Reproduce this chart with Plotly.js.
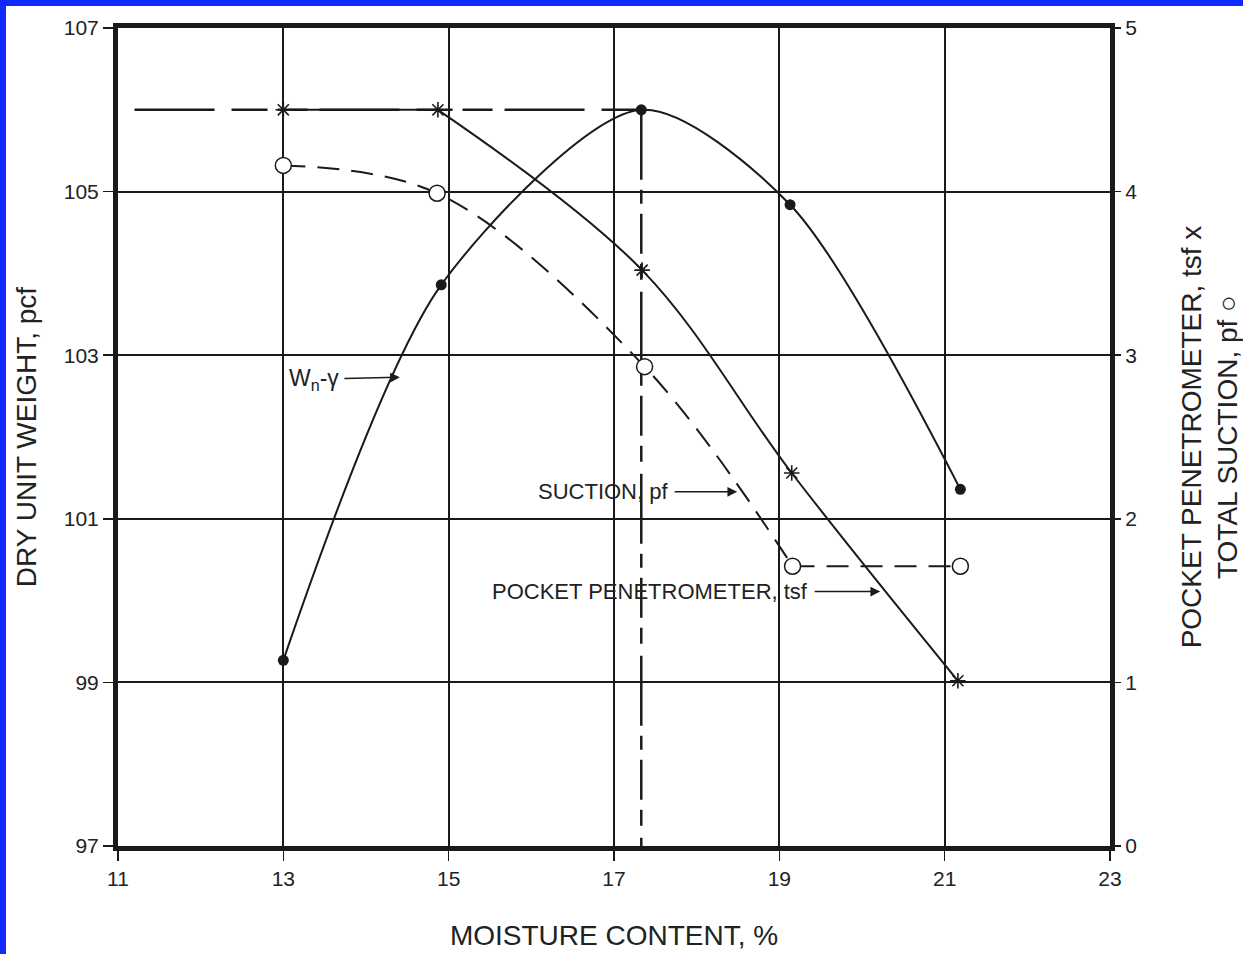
<!DOCTYPE html>
<html>
<head>
<meta charset="utf-8">
<script src="https://cdn.plot.ly/plotly-3.0.1.min.js"></script>
<style>
  html, body { margin: 0; padding: 0; background: #1029ff; width: 1243px; height: 954px; overflow: hidden; }
  #chart { position: absolute; left: 6px; top: 6px; width: 1237px; height: 948px; background: #ffffff; }
</style>
</head>
<body>
<div id="chart"></div>
<script>
// Moisture content (%) at each test
const moistureDry = [13.0, 14.91, 17.33, 19.13, 21.19];
// Dry unit weight, pcf (left axis)
const dryUnitWeight = [99.27, 103.86, 106.0, 104.84, 101.36];

// Pocket penetrometer, tsf (right axis)
const moisturePen = [13.0, 14.87, 17.34, 19.15, 21.16];
const pocketPen = [4.5, 4.5, 3.52, 2.28, 1.01];

// Total suction, pf (right axis)
const moistureSuctionCurve = [13.0, 14.86, 17.37, 19.16];
const suctionCurve = [4.16, 3.99, 2.93, 1.71];
const moistureSuctionFlat = [19.16, 21.19];
const suctionFlat = [1.71, 1.71];

// Optimum moisture content and maximum dry unit weight reference lines
const refStartMoisture = 11.2;
const optimumMoisture = 17.33;
const maxDryUnitWeight = 106.0;
const minDryAxis = 97;

// Axis ticks
const xTicks = [11, 13, 15, 17, 19, 21, 23];
const yLeftTicks = [97, 99, 101, 103, 105, 107];
const yRightTicks = [0, 1, 2, 3, 4, 5];

const ink = '#1a1a1a';
const txt = '#222222';
const fontFam = 'Liberation Sans, Arial, sans-serif';

const traces = [
  {
    x: [refStartMoisture, optimumMoisture], y: [maxDryUnitWeight, maxDryUnitWeight],
    mode: 'lines', line: {color: ink, width: 2.5, dash: '80px,17px,36px,10px,30px,12px'},
    hoverinfo: 'skip', showlegend: false
  },
  {
    x: [optimumMoisture, optimumMoisture], y: [maxDryUnitWeight, minDryAxis],
    mode: 'lines', line: {color: ink, width: 2.5, dash: '70px,10px,14px,10px,40px,10px,16px,12px'},
    hoverinfo: 'skip', showlegend: false
  },
  {
    name: 'Wn-γ', x: moistureDry, y: dryUnitWeight,
    mode: 'lines+markers', line: {color: ink, width: 2, shape: 'spline', smoothing: 0.8},
    marker: {symbol: 'circle', size: 11, color: ink},
    showlegend: false
  },
  {
    x: moisturePen.slice(0, 2), y: pocketPen.slice(0, 2), yaxis: 'y2',
    mode: 'lines', line: {color: ink, width: 2},
    showlegend: false
  },
  {
    x: moisturePen.slice(1), y: pocketPen.slice(1), yaxis: 'y2',
    mode: 'lines', line: {color: ink, width: 2, shape: 'spline', smoothing: 1.0},
    showlegend: false
  },
  {
    name: 'Pocket penetrometer', x: moisturePen, y: pocketPen, yaxis: 'y2',
    mode: 'markers',
    marker: {symbol: 'asterisk-open', size: 13, color: ink, line: {color: ink, width: 1.6}},
    showlegend: false
  },
  {
    name: 'Total suction', x: moistureSuctionCurve, y: suctionCurve, yaxis: 'y2',
    mode: 'lines', line: {color: ink, width: 2, shape: 'spline', smoothing: 1, dash: '22px,12px'},
    showlegend: false
  },
  {
    x: moistureSuctionFlat, y: suctionFlat, yaxis: 'y2',
    mode: 'lines', line: {color: ink, width: 2, dash: '22px,12px'},
    showlegend: false
  },
  {
    name: 'Total suction points', x: moistureSuctionCurve.concat([moistureSuctionFlat[1]]),
    y: suctionCurve.concat([suctionFlat[1]]), yaxis: 'y2',
    mode: 'markers', marker: {symbol: 'circle', size: 16, color: '#ffffff', line: {color: ink, width: 1.5}},
    showlegend: false
  }
];

const layout = {
  width: 1237, height: 948,
  margin: {l: 112, r: 133, t: 22, b: 108},
  paper_bgcolor: '#ffffff', plot_bgcolor: '#ffffff',
  font: {family: fontFam, color: txt, size: 21},
  showlegend: false,
  xaxis: {
    range: [11, 23], tickvals: xTicks, ticktext: xTicks.map(String),
    showgrid: true, gridcolor: ink, gridwidth: 2,
    showline: true, linecolor: ink, linewidth: 5, mirror: true,
    ticks: 'outside', ticklen: 10, tickwidth: 1.5, tickcolor: ink,
    tickfont: {size: 21, color: txt},
    zeroline: false,
    title: {text: 'MOISTURE CONTENT, %', font: {size: 28, color: txt}, standoff: 38}
  },
  yaxis: {
    range: [97, 107], tickvals: yLeftTicks, ticktext: yLeftTicks.map(String),
    showgrid: true, gridcolor: ink, gridwidth: 2,
    showline: true, linecolor: ink, linewidth: 5, mirror: true,
    ticks: 'outside', ticklen: 10, tickwidth: 1.5, tickcolor: ink,
    tickfont: {size: 21, color: txt},
    zeroline: false,
    title: {text: 'DRY UNIT WEIGHT, pcf', font: {size: 28, color: txt}, standoff: 20}
  },
  yaxis2: {
    range: [0, 5], tickvals: yRightTicks, ticktext: yRightTicks.map(String),
    overlaying: 'y', side: 'right',
    showgrid: false, showline: false, zeroline: false,
    ticks: 'outside', ticklen: 10, tickwidth: 1.5, tickcolor: ink,
    tickfont: {size: 21, color: txt},
    title: {text: 'POCKET PENETROMETER, tsf x<br>TOTAL SUCTION, pf ○', font: {size: 28, color: txt}, standoff: 56}
  },
  annotations: [
    {
      x: 14.41, y: 102.73, xref: 'x', yref: 'y',
      text: 'W<sub>n</sub>-γ', showarrow: true, ax: -86, ay: 2,
      arrowhead: 2, arrowsize: 1.3, arrowwidth: 1.5, arrowcolor: ink, borderpad: 5,
      font: {size: 23, color: txt}, standoff: 0
    },
    {
      x: 18.49, y: 101.33, xref: 'x', yref: 'y',
      text: 'SUCTION, pf', showarrow: true, ax: -134, ay: 0,
      arrowhead: 2, arrowsize: 1.3, arrowwidth: 1.5, arrowcolor: ink, borderpad: 6,
      font: {size: 22, color: txt}, standoff: 0
    },
    {
      x: 20.22, y: 100.11, xref: 'x', yref: 'y',
      text: 'POCKET PENETROMETER, tsf', showarrow: true, ax: -230, ay: 0,
      arrowhead: 2, arrowsize: 1.3, arrowwidth: 1.5, arrowcolor: ink, borderpad: 6,
      font: {size: 22, color: txt}, standoff: 0
    }
  ]
};

Plotly.newPlot('chart', traces, layout, {displayModeBar: false, staticPlot: true});
</script>
</body>
</html>
